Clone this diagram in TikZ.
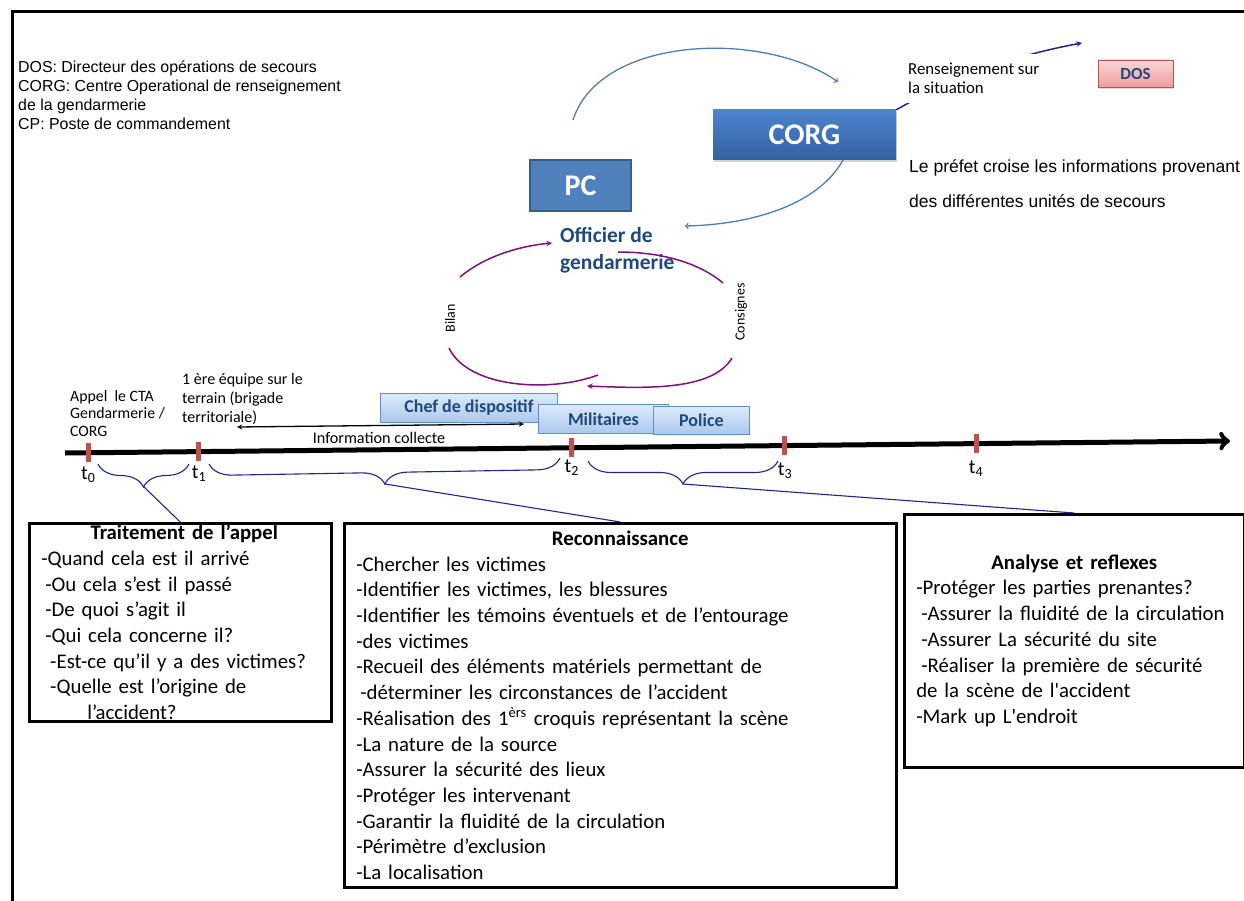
\documentclass[tikz,border=0pt]{standalone}
\usepackage{fontspec}
\setmainfont{Carlito}
\newfontfamily\arialfont{Liberation Sans}
\usetikzlibrary{shapes,arrows,positioning,shadows,decorations.pathreplacing}

\definecolor{arcblue}{RGB}{74,126,187}
\definecolor{corgtop}{RGB}{76,132,206}
\definecolor{corgbot}{RGB}{52,96,160}
\definecolor{pcblue}{RGB}{79,129,189}
\definecolor{pcedge}{RGB}{56,93,138}
\definecolor{darkblue}{RGB}{31,73,125}
\definecolor{loopviolet}{RGB}{128,16,128}
\definecolor{tickred}{RGB}{192,80,77}
\definecolor{bracenavy}{RGB}{30,36,150}
\definecolor{dostop}{RGB}{255,214,214}
\definecolor{dosbot}{RGB}{236,156,156}
\definecolor{infotop}{RGB}{222,234,250}
\definecolor{infobot}{RGB}{170,200,238}
\definecolor{infoedge}{RGB}{95,142,205}

\begin{document}
\begin{tikzpicture}[
    x=1pt, y=-1pt,
    listbox/.style={draw, rectangle, line width=2.5pt, anchor=north west, align=left, inner xsep=12pt, inner ysep=0pt, font=\fontsize{20.8}{25.7}\selectfont},
    unitbox/.style={draw=infoedge, thick, rectangle, top color=infotop, bottom color=infobot, text=darkblue, font=\fontsize{18}{20}\selectfont\bfseries, minimum height=29pt, anchor=north west, inner sep=0pt},
    tickmark/.style={fill=tickred, rectangle, minimum width=5pt, minimum height=19pt, inner sep=0pt},
    tlabel/.style={font=\fontsize{20}{22}\selectfont, inner sep=0pt},
    bluearc/.style={->, >=to, arcblue, line width=1.3pt},
    violetarc/.style={loopviolet, line width=1.5pt},
    bracket/.style={bracenavy, line width=1.1pt, decorate, decoration={brace, mirror, amplitude=23pt}},
    smalltext/.style={anchor=north west, align=left, inner sep=0pt}
]
\useasboundingbox (0,0) rectangle (1244,901);

% Frame
\draw[line width=3pt] (12,901) -- (12,12) -- (1244,12);

% Legend
\node[smalltext, font=\arialfont\fontsize{15.9}{19}\selectfont] (legend) at (18,61) {DOS: Directeur des opérations de secours\\CORG: Centre Operational de renseignement\\de la gendarmerie\\CP: Poste de commandement};

% Command posts
\node[rectangle, top color=corgtop, bottom color=corgbot, text=white, font=\fontsize{30}{32}\selectfont\bfseries, minimum width=183pt, minimum height=50pt, drop shadow={opacity=0.35, shadow xshift=1pt, shadow yshift=-2pt}] (corg) at (804.5,135) {CORG};
\node[rectangle, fill=pcblue, draw=pcedge, line width=2.5pt, text=white, font=\fontsize{30}{32}\selectfont\bfseries, minimum width=101pt, minimum height=51pt] (pc) at (580.5,185.5) {PC};
\node[smalltext, text=darkblue, font=\fontsize{21.5}{27}\selectfont\bfseries] (officier) at (560,227) {Officier de\\gendarmerie};

% Blue arcs
\coordinate (pcout) at (573,120);
\coordinate (corgin) at (838,82);
\coordinate (corgout) at (843,160);
\coordinate (officierin) at (685,226);
\draw[bluearc] (pcout) .. controls (600,35) and (765,30) .. (corgin);
\draw[bluearc] (corgout) .. controls (815,210) and (740,225) .. (officierin);

% DOS
\node[rectangle, draw=tickred, top color=dostop, bottom color=dosbot, text=darkblue, font=\fontsize{17}{19}\selectfont\bfseries, minimum width=75pt, minimum height=27pt, drop shadow={opacity=0.3, shadow xshift=1pt, shadow yshift=-2pt}] (dos) at (1135.5,73.5) {DOS};
\coordinate (dosin) at (1082,43);
\draw[->, >=stealth, bracenavy, line width=1.5pt] (corg.north east) .. controls (940,85) and (1000,58) .. (dosin);
\node[smalltext, fill=white, inner xsep=3pt, inner ysep=9pt, font=\fontsize{16.8}{19}\selectfont] (renseignement) at (905,54) {Renseignement sur\\la situation};

\node[smalltext, font=\arialfont\fontsize{17.5}{35}\selectfont] (prefet) at (909,159) {Le préfet croise les informations provenant\\des différentes unités de secours};

% Purple loop
\coordinate (bilanA) at (460,277);
\coordinate (bilanB) at (552,243);
\coordinate (consA) at (618,252);
\coordinate (consB) at (723,283);
\coordinate (consC) at (732,358);
\coordinate (consD) at (587,386);
\coordinate (bilanC) at (449,348);
\coordinate (bilanD) at (598,375);
\draw[violetarc, -stealth] (bilanA) .. controls (485,256) and (520,246) .. (bilanB);
\draw[violetarc] (consA) .. controls (668,252) and (703,266) .. (consB);
\draw[violetarc, -stealth] (consC) .. controls (712,392) and (640,388) .. (consD);
\draw[violetarc] (bilanC) .. controls (468,388) and (550,393) .. (bilanD);
\node[rotate=90, font=\fontsize{14}{16}\selectfont] (bilan) at (450,318) {Bilan};
\node[rotate=90, font=\fontsize{14}{16}\selectfont] (consignes) at (741,312) {Consignes};

% Units on site
\node[unitbox, minimum width=177pt] (chef) at (380,393) {Chef de dispositif};
\node[unitbox, minimum width=130pt] (militaires) at (538,404) {Militaires};
\node[unitbox, minimum width=96pt, minimum height=28pt] (police) at (653,406) {Police};

% Information collecte
\coordinate (collecteA) at (237,427);
\coordinate (collecteB) at (524,424);
\draw[<->, >=stealth, line width=1.3pt] (collecteA) -- (collecteB);
\node[font=\fontsize{16.2}{18}\selectfont, inner sep=0pt] (collecte) at (379,438) {Information collecte};

\node[smalltext, font=\fontsize{15.8}{17.5}\selectfont] (appel) at (70,390) {Appel\ \ le CTA\\Gendarmerie /\\CORG};
\node[smalltext, font=\fontsize{16}{19}\selectfont] (equipe) at (182,373) {1 ère équipe sur le\\terrain (brigade\\territoriale)};

% Timeline
\coordinate (tlstart) at (65,453);
\coordinate (tlend) at (1230,441);
\draw[line width=5pt, ->] (tlstart) -- (tlend);
\foreach \n/\p/\d in {0/0.02/4,1/0.115/4,2/0.435/2.5,3/0.618/7,4/0.782/7}{
    \path (tlstart) -- (tlend) node[tickmark, pos=\p] (tick\n) {};
    \node[tlabel, below=\d pt of tick\n] (t\n) {t\textsubscript{\n}};
}

% Braces
\draw[bracket] (98,464) -- (189,464);
\draw[bracket] (209,464) -- (560,458);
\draw[bracket] (588,461) -- (778,461);
\coordinate (tip1) at (144,487);
\coordinate (tip2) at (385,484);
\coordinate (tip3) at (683,484);

% Phases
\node[listbox, minimum width=302pt, minimum height=198pt, text width=278pt] (appelbox) at (28,522) {%
\makebox[\linewidth]{\hspace*{8pt}\bfseries Traitement de l’appel}\\
-Quand cela est il arrivé\\
\hspace*{4pt}-Ou cela s’est il passé\\
\hspace*{4pt}-De quoi s’agit il\\
\hspace*{4pt}-Qui cela concerne il?\\
\hspace*{9pt}-Est-ce qu’il y a des victimes?\\
\hspace*{9pt}-Quelle est l’origine de\\
\hspace*{46pt}l’accident?};

\node[listbox, minimum width=552pt, minimum height=364pt, text width=528pt] (reconbox) at (343,522) {%
\makebox[\linewidth]{\bfseries Reconnaissance}\\
-Chercher les victimes\\
-Identifier les victimes, les blessures\\
-Identifier les témoins éventuels et de l’entourage\\
-des victimes\\
-Recueil des éléments matériels permettant de\\
\hspace*{4pt}-déterminer les circonstances de l’accident\\
-Réalisation des 1\textsuperscript{èrs} croquis représentant la scène\\
-La nature de la source\\
-Assurer la sécurité des lieux\\
-Protéger les intervenant\\
-Garantir la fluidité de la circulation\\
-Périmètre d’exclusion\\
-La localisation};

\node[listbox, minimum width=340pt, minimum height=253pt, text width=316pt] (analysebox) at (903,513) {%
\makebox[\linewidth]{\bfseries Analyse et reflexes}\\
-Protéger les parties prenantes?\\
\hspace*{5pt}-Assurer la fluidité de la circulation\\
\hspace*{5pt}-Assurer La sécurité du site\\
\hspace*{5pt}-Réaliser la première de sécurité\\
de la scène de l\textquotesingle accident\\
-Mark up L\textquotesingle endroit};

% Links to phases
\draw[bracenavy, line width=1.1pt] (tip1) -- (appelbox.north);
\draw[bracenavy, line width=1.1pt] (tip2) -- (reconbox.north);
\draw[bracenavy, line width=1.1pt] (tip3) -- (analysebox.north);

\end{tikzpicture}
\end{document}
